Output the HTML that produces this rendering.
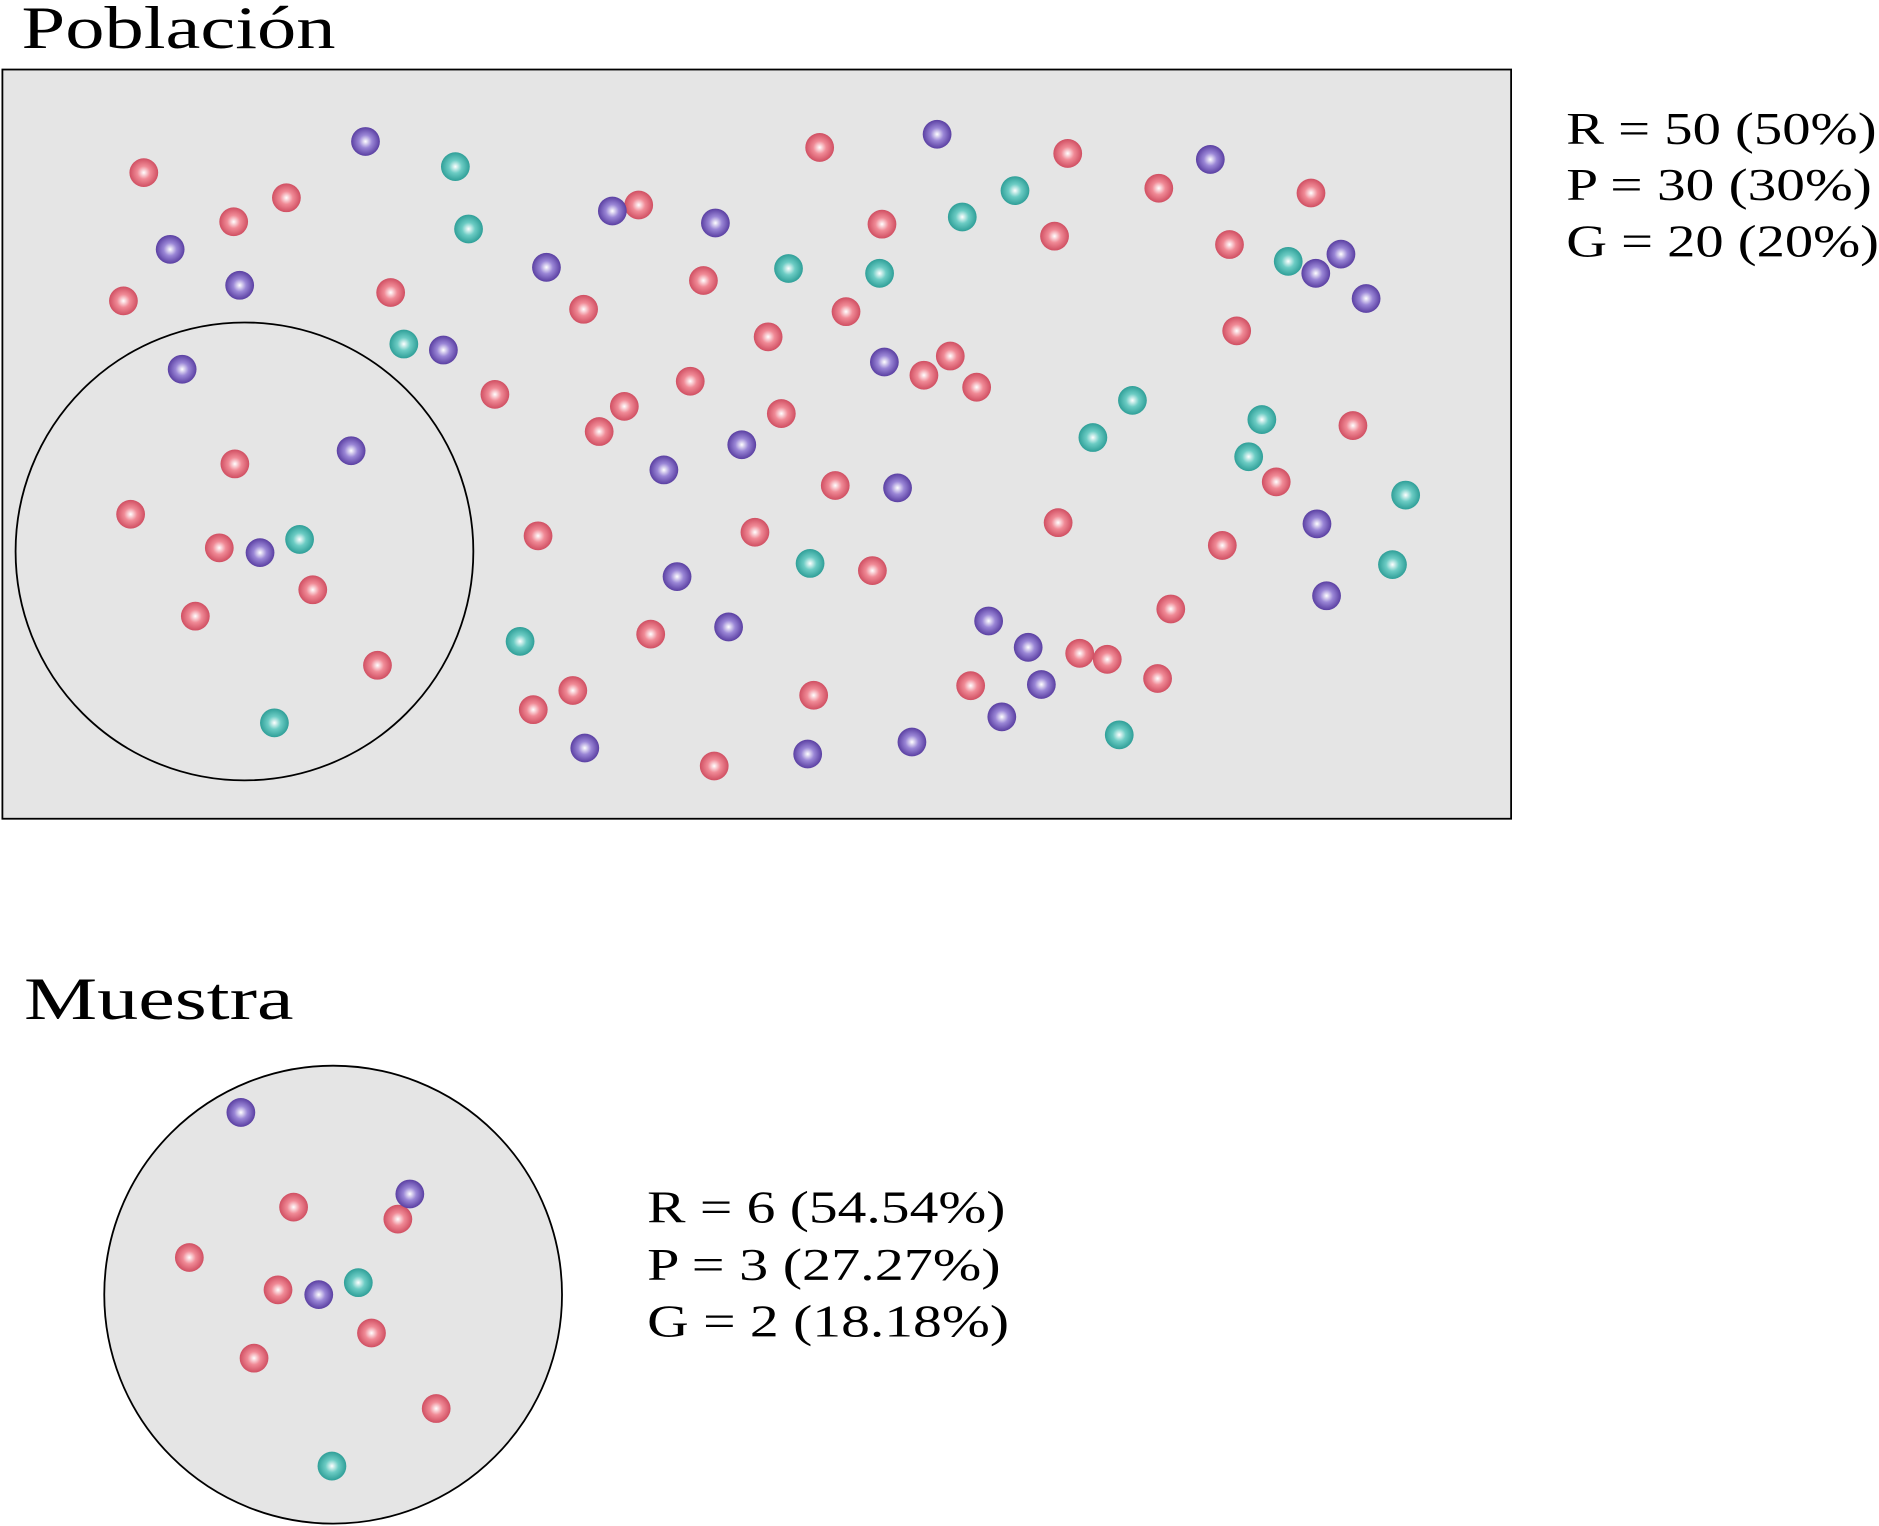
<!DOCTYPE html>
<html><head><meta charset="utf-8"><style>html,body{margin:0;padding:0;background:#fff}svg{display:block}</style></head>
<body>
<svg width="1879" height="1526" viewBox="0 0 1568 1273" preserveAspectRatio="none" xmlns="http://www.w3.org/2000/svg">
<defs>
<radialGradient id="gr" cx="50%" cy="50%" r="50%"><stop offset="0" stop-color="#fff"/><stop offset="0.45" stop-color="#f08a96"/><stop offset="1" stop-color="#d04f62"/></radialGradient>
<radialGradient id="gp" cx="50%" cy="50%" r="50%"><stop offset="0" stop-color="#fff"/><stop offset="0.45" stop-color="#9a86d6"/><stop offset="1" stop-color="#5a3fa2"/></radialGradient>
<radialGradient id="gt" cx="50%" cy="50%" r="50%"><stop offset="0" stop-color="#fff"/><stop offset="0.45" stop-color="#6cccc4"/><stop offset="1" stop-color="#2f9f98"/></radialGradient>
</defs>
<text x="18" y="40" font-family="Liberation Serif, serif" font-size="50" textLength="262" lengthAdjust="spacingAndGlyphs">Población</text>
<rect x="2" y="58" width="1259" height="625" fill="#e5e5e5" stroke="#000" stroke-width="1.5"/>
<circle cx="204" cy="460" r="191" fill="none" stroke="#000" stroke-width="1.5"/>
<g id="pop"></g>
<g font-family="Liberation Serif, serif" font-size="38" lengthAdjust="spacingAndGlyphs">
<text x="1307" y="120" textLength="259" lengthAdjust="spacingAndGlyphs">R = 50 (50%)</text>
<text x="1307" y="167" textLength="255" lengthAdjust="spacingAndGlyphs">P = 30 (30%)</text>
<text x="1307" y="214" textLength="261" lengthAdjust="spacingAndGlyphs">G = 20 (20%)</text>
</g>
<text x="20" y="850" font-family="Liberation Serif, serif" font-size="50" textLength="225" lengthAdjust="spacingAndGlyphs">Muestra</text>
<circle cx="278" cy="1080" r="191" fill="#e5e5e5" stroke="#000" stroke-width="1.5"/>
<g id="samp"></g>
<g font-family="Liberation Serif, serif" font-size="38">
<text x="540" y="1020" textLength="299" lengthAdjust="spacingAndGlyphs">R = 6 (54.54%)</text>
<text x="540" y="1068" textLength="295" lengthAdjust="spacingAndGlyphs">P = 3 (27.27%)</text>
<text x="540" y="1115" textLength="302" lengthAdjust="spacingAndGlyphs">G = 2 (18.18%)</text>
</g>
</svg>
<script>
const popRed=[[119,143],[238,164],[194,184],[102,250],[325,243],[412,328],[486,257],[532,170],[586,233],[640,280],[575,317],[520,338],[499,359],[651,344],[683,122],[735,186],[705,259],[792,296],[770,312],[814,322],[890,127],[879,196],[966,156],[1093,160],[1025,203],[1031,275],[1128,354],[1064,401],[1019,454],[882,435],[976,507],[965,565],[923,549],[900,544],[809,571],[727,475],[696,404],[629,443],[678,579],[542,528],[477,575],[444,591],[595,638],[448,446],[195,386],[108,428],[182,456],[260,491],[162,513],[314,554]];
const popPurple=[[304,117],[141,207],[199,237],[151,307],[369,291],[455,222],[510,175],[596,185],[781,111],[1009,132],[1118,211],[1097,227],[1139,248],[737,301],[618,370],[553,391],[748,406],[1098,436],[1106,496],[824,517],[857,539],[868,570],[835,597],[760,618],[673,628],[487,623],[607,522],[564,480],[292,375],[216,460]];
const popTeal=[[379,138],[390,190],[336,286],[657,223],[733,227],[802,180],[846,158],[1074,217],[944,333],[911,364],[1052,349],[1041,380],[1172,412],[1161,470],[675,469],[933,612],[433,534],[249,449],[228,602]];
const sampRed=[[244,1006],[331,1016],[157,1048],[231,1075],[309,1111],[211,1132],[363,1174]];
const sampPurple=[[200,927],[341,995],[265,1079]];
const sampTeal=[[298,1069],[276,1222]];
const NS="http://www.w3.org/2000/svg";
function draw(gid,arr,grad,name){
  const g=document.getElementById(gid);
  arr.forEach(p=>{
    const e=document.createElementNS(NS,"ellipse");
    e.setAttribute("cx",p[0]+1);e.setAttribute("cy",p[1]+1);
    e.setAttribute("rx",12);e.setAttribute("ry",12);
    e.setAttribute("fill","url(#"+grad+")");
    
    
    g.appendChild(e);
  });
}
draw("pop",popRed,"gr","red-ball");
draw("pop",popPurple,"gp","purple-ball");
draw("pop",popTeal,"gt","teal-ball");
draw("samp",sampRed,"gr","red-ball");
draw("samp",sampPurple,"gp","purple-ball");
draw("samp",sampTeal,"gt","teal-ball");
</script>
</body></html>
